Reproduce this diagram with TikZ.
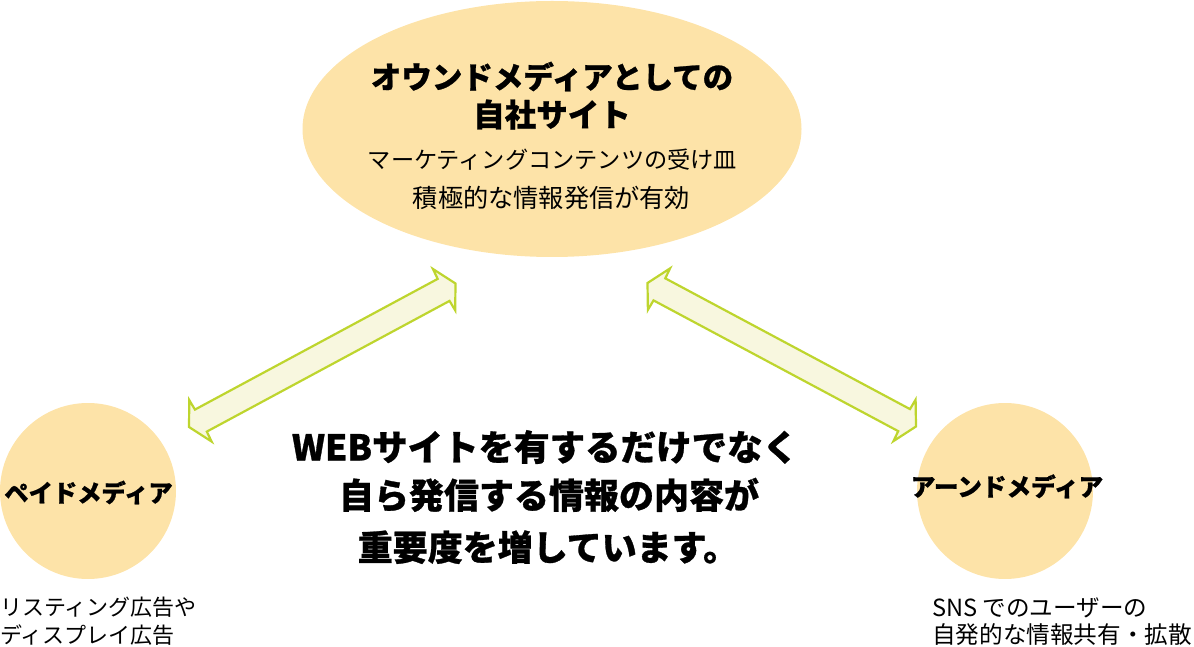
\documentclass[tikz,border=0pt]{standalone}
\usepackage{fontspec}
\setmainfont{Noto Sans CJK JP}
\newfontfamily\jp{Noto Sans CJK JP}[BoldFeatures={FakeBold=0.8}]
\usetikzlibrary{shapes.geometric,calc}
\definecolor{ellfill}{RGB}{253,227,168}
\definecolor{arrfill}{RGB}{248,247,223}
\definecolor{arrline}{RGB}{190,213,46}
\tikzset{
  media/.style={circle,fill=ellfill,inner sep=0pt,minimum size=176pt},
  txt/.style={inner sep=0pt,anchor=base},
  boldtxt/.style={txt,font=\jp\bfseries},
  fatarrow/.style={draw=arrline,fill=arrfill,line width=2.2pt,line join=miter},
}
\newcommand{\fs}[1]{\fontsize{#1}{#1}\selectfont}
\newcommand{\dblarrow}[2]{%
  \draw[fatarrow] (#1)
    -- ($(#1)!13pt!(#2)!23.5pt!90:(#2)$)
    -- ($(#1)!13.5pt!(#2)!12.5pt!90:(#2)$)
    -- ($(#2)!13.5pt!(#1)!12.5pt!-90:(#1)$)
    -- ($(#2)!13pt!(#1)!23.5pt!-90:(#1)$)
    -- (#2)
    -- ($(#2)!13pt!(#1)!23.5pt!90:(#1)$)
    -- ($(#2)!13.5pt!(#1)!12.5pt!90:(#1)$)
    -- ($(#1)!13.5pt!(#2)!12.5pt!-90:(#2)$)
    -- ($(#1)!13pt!(#2)!23.5pt!-90:(#2)$)
    -- cycle;}
\begin{document}
\begin{tikzpicture}[x=1pt,y=1pt]
\useasboundingbox (0,0) rectangle (1194,646);
% owned media ellipse
\node[ellipse,fill=ellfill,inner sep=0pt,minimum width=499pt,minimum height=256pt] (owned) at (552,517) {};
\node[boldtxt,font=\jp\bfseries\fs{30.5}] (ownedA) at (552,557.5) {オウンドメディアとしての};
\node[boldtxt,font=\jp\bfseries\fs{31.5}] (ownedB) at (552,519.5) {自社サイト};
\node[txt,font=\jp\fs{23.2}] (ownedC) at (552.5,477.5) {マーケティングコンテンツの受け皿};
\node[txt,font=\jp\fs{25.2}] (ownedD) at (551.5,438.5) {積極的な情報発信が有効};
% paid media
\node[media] (paid) at (88,155) {};
\node[boldtxt,font=\jp\bfseries\fs{24.3}] (paidT) at (88.5,144) {ペイドメディア};
\node[txt,font=\jp\fs{22},anchor=base west] (paidD1) at (0,31) {リスティング広告や};
\node[txt,font=\jp\fs{22},anchor=base west] (paidD2) at (0,3) {ディスプレイ広告};
% earned media
\node[media] (earned) at (1005,155) {};
\node[boldtxt,font=\jp\bfseries\fs{24.6}] (earnedT) at (1007,150) {アーンドメディア};
\node[txt,font=\jp\fs{23.6},anchor=base west] (earnedD1) at (932,30) {SNS でのユーザーの};
\node[txt,font=\jp\fs{23.6},anchor=base west] (earnedD2) at (932,3) {自発的な情報共有・拡散};
% centre message
\node[boldtxt,font=\jp\bfseries\fs{35.5}] (msg1) at (545,185.5) {WEBサイトを有するだけでなく};
\node[boldtxt,font=\jp\bfseries\fs{35}] (msg2) at (549,137.5) {自ら発信する情報の内容が};
\node[boldtxt,font=\jp\bfseries\fs{35}] (msg3) at (548,85.5) {重要度を増しています。};
% double arrows
\coordinate (la) at (189,219);
\coordinate (lb) at (455.5,362.5);
\coordinate (ra) at (647.5,363);
\coordinate (rb) at (916,219.5);
\dblarrow{la}{lb}
\dblarrow{ra}{rb}
\end{tikzpicture}
\end{document}
